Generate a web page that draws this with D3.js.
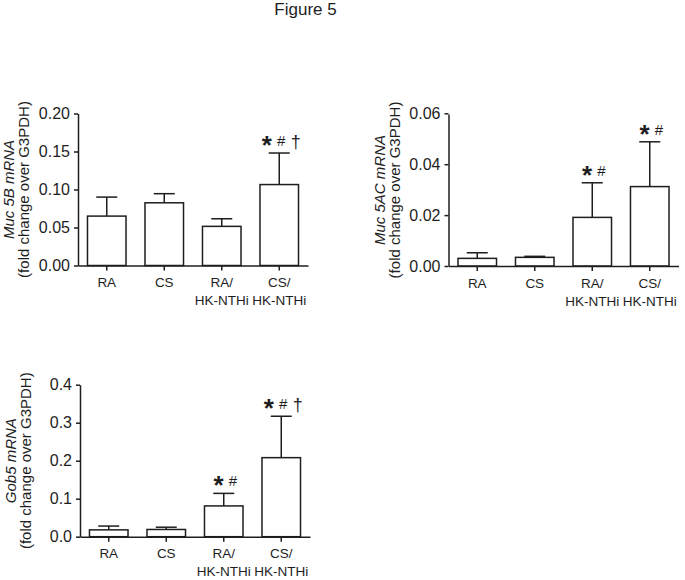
<!DOCTYPE html>
<html>
<head>
<meta charset="utf-8">
<script src="https://cdn.jsdelivr.net/npm/d3@7"></script>
<style>
  body { margin: 0; background: #fff; }
  svg { display: block; font-family: Arial, "Liberation Sans", sans-serif; }
</style>
</head>
<body>
<div id="chart"></div>
<script>
// groups (two-line tick labels)
const categories = ["RA", "CS", "RA/HK-NTHi", "CS/HK-NTHi"];
const categoryLines = [["RA"], ["CS"], ["RA/", "HK-NTHi"], ["CS/", "HK-NTHi"]];

// Muc 5B
const muc5bMean = [0.065, 0.0825, 0.0515, 0.1065];
const muc5bErr = [0.025, 0.012, 0.010, 0.0415];
const muc5bMarks = [[], [], [], ["*", "#", "†"]];
const muc5bTicks = [0, 0.05, 0.10, 0.15, 0.20];

// Muc 5AC
const muc5acMean = [0.0030, 0.0034, 0.0191, 0.0312];
const muc5acErr = [0.0022, 0.0004, 0.0136, 0.0176];
const muc5acMarks = [[], [], ["*", "#"], ["*", "#"]];
const muc5acTicks = [0, 0.02, 0.04, 0.06];

// Gob5
const gob5Mean = [0.018, 0.019, 0.081, 0.208];
const gob5Err = [0.010, 0.006, 0.033, 0.109];
const gob5Marks = [[], [], ["*", "#"], ["*", "#", "†"]];
const gob5Ticks = [0, 0.1, 0.2, 0.3, 0.4];

const width = 685, height = 580;
const ink = "#1e1e1e";

const svg = d3.select("#chart").append("svg")
    .attr("width", width)
    .attr("height", height);

svg.append("text")
    .attr("x", 305.5).attr("y", 15)
    .attr("text-anchor", "middle")
    .style("font-size", "17px")
    .attr("fill", ink)
    .text("Figure 5");

function drawPanel(p) {
    const x = d3.scaleBand().domain(categories)
        .range([p.left, p.left + 230])
        .paddingInner(0.33).paddingOuter(0.165);
    const y = d3.scaleLinear().domain([0, p.max]).range([p.bottom, p.bottom - 152]);

    const g = svg.append("g");

    // bars
    g.selectAll(".bar")
        .data(p.mean)
        .join("rect")
        .attr("x", (d, i) => x(categories[i]))
        .attr("width", x.bandwidth())
        .attr("y", d => y(d))
        .attr("height", d => y(0) - y(d))
        .attr("fill", "#fff")
        .attr("stroke", ink)
        .attr("stroke-width", 1.5);

    // upward error bars
    const err = g.selectAll(".err")
        .data(p.mean)
        .join("g")
        .attr("transform", (d, i) => `translate(${x(categories[i]) + x.bandwidth() / 2},0)`);
    err.append("line")
        .attr("y1", d => y(d))
        .attr("y2", (d, i) => y(d + p.err[i]))
        .attr("stroke", ink).attr("stroke-width", 1.5);
    err.append("line")
        .attr("x1", -10.5).attr("x2", 10.5)
        .attr("y1", (d, i) => y(d + p.err[i]))
        .attr("y2", (d, i) => y(d + p.err[i]))
        .attr("stroke", ink).attr("stroke-width", 1.5);

    // significance marks
    p.marks.forEach((m, i) => {
        const cx = x(categories[i]) + x.bandwidth() / 2;
        const cap = y(p.mean[i] + p.err[i]);
        m.forEach((s, j) => {
            const sx = cx + 2 + (j - (m.length - 1) / 2) * 14.5;
            const t = g.append("text")
                .attr("x", sx)
                .attr("text-anchor", "middle")
                .attr("fill", ink)
                .text(s);
            if (s === "*") t.attr("y", cap + 1).style("font-size", "26px").style("font-weight", "bold");
            else if (s === "#") t.attr("y", cap - 7).style("font-size", "15px");
            else t.attr("y", cap - 5).style("font-size", "18px");
        });
    });

    // y axis
    const ya = g.append("g")
        .attr("transform", `translate(${p.left},0)`)
        .call(d3.axisLeft(y).tickValues(p.ticks).tickFormat(d3.format(p.fmt))
            .tickSize(4).tickSizeOuter(0).tickPadding(4));
    ya.selectAll("text").style("font-size", "16px").attr("fill", ink);

    // x axis
    const xa = g.append("g")
        .attr("transform", `translate(0,${p.bottom})`)
        .call(d3.axisBottom(x).tickSize(5).tickSizeOuter(0));
    xa.selectAll("text").remove();
    xa.selectAll(".tick").append("text")
        .attr("fill", ink)
        .attr("text-anchor", "middle")
        .style("font-size", "13.5px")
        .selectAll("tspan")
        .data((d, i) => categoryLines[i])
        .join("tspan")
        .attr("x", 0)
        .attr("y", (d, i) => 21.5 + i * 18)
        .text(d => d);

    [ya, xa].forEach(a => {
        a.selectAll(".domain, line").attr("stroke", ink).attr("stroke-width", 1.5);
    });

    // y title
    const cy = p.bottom - 76;
    const tt = g.append("text")
        .attr("transform", `translate(${p.left - 64},${cy}) rotate(-90)`)
        .attr("text-anchor", "middle")
        .attr("fill", ink)
        .style("font-size", "15px");
    tt.append("tspan").attr("x", 0).attr("y", 0)
        .style("font-style", "italic").text(p.title);
    tt.append("tspan").attr("x", 0).attr("y", 15)
        .text("(fold change over G3PDH)");
}

drawPanel({left: 78, bottom: 265.5, max: 0.2, mean: muc5bMean, err: muc5bErr,
    marks: muc5bMarks, ticks: muc5bTicks, fmt: ".2f", title: "Muc 5B mRNA"});
drawPanel({left: 448.5, bottom: 266, max: 0.06 * 152 / 152.7, mean: muc5acMean, err: muc5acErr,
    marks: muc5acMarks, ticks: muc5acTicks, fmt: ".2f", title: "Muc 5AC mRNA"});
drawPanel({left: 80, bottom: 536.7, max: 0.4, mean: gob5Mean, err: gob5Err,
    marks: gob5Marks, ticks: gob5Ticks, fmt: ".1f", title: "Gob5 mRNA"});
</script>
</body>
</html>
